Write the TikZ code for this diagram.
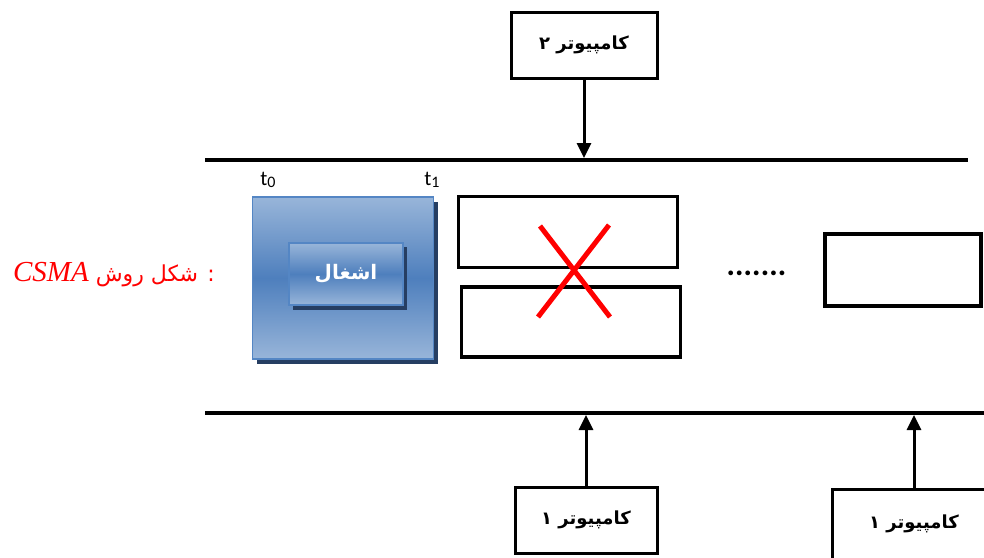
\documentclass[tikz,border=0pt]{standalone}
\usepackage{fontspec}
\setmainfont{Carlito}
\newfontfamily\fa[Script=Arabic]{DejaVu Sans}
\newfontfamily\tnr{Liberation Serif}
\TeXXeTstate=1
\usetikzlibrary{arrows.meta,positioning,shadows}

\definecolor{busyTop}{RGB}{152,181,217}
\definecolor{busyMid}{RGB}{78,127,189}
\definecolor{busyEdge}{RGB}{84,134,196}
\definecolor{busyShadow}{RGB}{38,62,98}

\begin{document}
\begin{tikzpicture}[x=1pt, y=-1pt,
    bus/.style={line width=3.5pt},
    link/.style={line width=3pt, -{Triangle[length=15pt, width=14pt]}},
    computer/.style={rectangle, draw, line width=3pt, fill=white, font=\fa\bfseries\fontsize{18}{20}\selectfont},
    slot/.style={rectangle, draw, line width=3.5pt, fill=white},
    busy/.style={rectangle, draw=busyEdge, line width=1.5pt, top color=busyTop, bottom color=busyTop, middle color=busyMid,
        drop shadow={shadow xshift=4pt, shadow yshift=-5pt, fill=busyShadow, opacity=1}},
    tlabel/.style={font=\fontsize{21}{24}\selectfont}
]
\clip (0,0) rectangle (984,557);

% Caption on the left
\node[text=red] (caption) at (114,275) {\beginR{\fa\fontsize{22}{26}\selectfont : شکل روش}\hspace{7pt}\beginL{\tnr\itshape\fontsize{29}{32}\selectfont CSMA}\endL\endR};

% Channel lines
\coordinate (topL) at (205,160);
\coordinate (topR) at (968,160);
\coordinate (botL) at (205,413);
\coordinate (botR) at (984,413);
\draw[bus] (topL) -- (topR);
\draw[bus] (botL) -- (botR);

% Computers
\node[computer, minimum width=146pt, minimum height=66pt] (pc2) at (584,45) {\beginR کامپیوتر ۲\endR};
\node[computer, minimum width=142pt, minimum height=66pt] (pc1a) at (586,520) {\beginR کامپیوتر ۱\endR};
\node[computer, minimum width=164pt, minimum height=70pt] (pc1b) at (914,524) {\beginR کامپیوتر ۱\endR};

\draw[link, shorten >=2pt] (pc2) -- (pc2 |- topL);
\draw[link, shorten >=2pt] (pc1a) -- (pc1a |- botL);
\draw[link, shorten >=2pt] (pc1b) -- (pc1b |- botL);

% Time marks
\node[tlabel] (t0) at (268,180) {t\raisebox{-0.25ex}{\fontsize{16}{18}\selectfont 0}};
\node[tlabel] (t1) at (432,180) {t\raisebox{-0.25ex}{\fontsize{16}{18}\selectfont 1}};

% Busy slot
\node[busy, minimum width=181pt, minimum height=162pt] (busy) at (343,278) {};
\node[busy, minimum width=114pt, minimum height=62pt, text=white, font=\fa\bfseries\fontsize{20}{22}\selectfont,
    drop shadow={shadow xshift=4pt, shadow yshift=-4pt, fill=busyShadow, opacity=1}] (tag) at (346,274) {اشغال};

% Collision slots
\node[slot, minimum width=219pt, minimum height=71pt] (slotA) at (568,232) {};
\node[slot, minimum width=219pt, minimum height=70pt] (slotB) at (571,322) {};
\draw[red, line width=5pt] (540,226) -- (610,317);
\draw[red, line width=5pt] (609,225) -- (538,317);

% Later slot
\node[font=\bfseries\itshape\fontsize{32}{34}\selectfont] (dots) at (757,273) {.......};
\node[slot, minimum width=156pt, minimum height=72pt] (slotC) at (903,270) {};

\end{tikzpicture}
\end{document}
